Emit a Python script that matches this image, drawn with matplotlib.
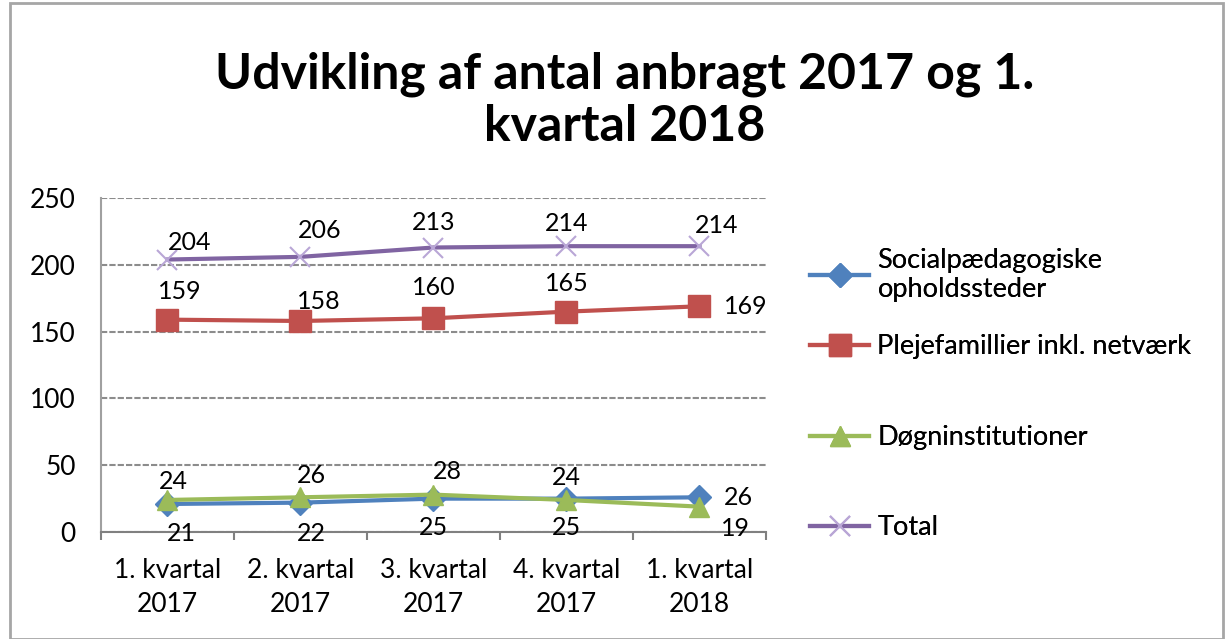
import matplotlib
matplotlib.use("Agg")
import matplotlib.pyplot as plt
from matplotlib.patches import Rectangle

plt.rcParams['font.family'] = ['Lato', 'DejaVu Sans']

categories = ["1. kvartal\n2017", "2. kvartal\n2017", "3. kvartal\n2017",
              "4. kvartal\n2017", "1. kvartal\n2018"]
social = [21, 22, 25, 25, 26]
pleje = [159, 158, 160, 165, 169]
doegn = [24, 26, 28, 24, 19]
total = [204, 206, 213, 214, 214]

seriesNames = ["Socialpædagogiske\nopholdssteder",
               "Plejefamillier inkl. netværk",
               "Døgninstitutioner", "Total"]

# label offsets in points (dx, dy) for each series point
socialOff = [(10, -21), (8, -22), (0, -21), (0, -21), (28, 0)]
plejeOff = [(9, 20), (13, 14), (0, 22), (0, 20), (33, 0)]
doegnOff = [(4, 13), (8, 16), (10, 17), (0, 16), (26, -16)]
totalOff = [(16, 12), (14, 19), (0, 18), (0, 16), (12, 15)]

# vertical positions (figure fraction) of the legend entries
legendY = [0.570, 0.457, 0.315, 0.174]

figure = plt.figure(figsize=(12.25, 6.39), dpi=100)
ax = figure.add_axes([0.0824, 0.1674, 0.5429, 0.5226])

x = list(range(len(categories)))
lineSpecs = [
    (social, "#4F81BD", "D", 12, socialOff),
    (pleje, "#C0504D", "s", 16, plejeOff),
    (doegn, "#9BBB59", "^", 14, doegnOff),
    (total, "#8064A2", "x", 14, totalOff),
]
handles = []
for (values, color, marker, msize, offsets), name in zip(lineSpecs, seriesNames):
    line, = ax.plot(x, values, color=color, lw=3, marker=marker, ms=msize,
                    mew=1.5 if marker == "x" else 1,
                    mec=color if marker != "x" else "#B9A6D6", label=name)
    handles.append(line)
    for xi, v, off in zip(x, values, offsets):
        ax.annotate(str(v), (xi, v), xytext=off, textcoords="offset points",
                    ha="center", va="center", fontsize=18, color="black")

ax.set_xlim(-0.5, 4.5)
ax.set_ylim(0, 250)
ax.set_yticks(range(0, 251, 50))
ax.set_xticks(x)
ax.set_xticklabels(categories, linespacing=1.45)
ax.set_xticks([i + 0.5 for i in range(-1, 5)], minor=True)
ax.tick_params(axis="x", which="major", length=0, pad=19, labelsize=19)
ax.tick_params(axis="x", which="minor", length=6, color="#808080", width=1.5)
ax.tick_params(axis="y", length=0, pad=18, labelsize=19)

ax.yaxis.grid(True, color="#8C8C8C", ls=(0, (3, 1)), lw=1.5)
ax.set_axisbelow(True)
for side in ["top", "right"]:
    ax.spines[side].set_visible(False)
ax.spines["left"].set_color("#A0A0A0")
ax.spines["left"].set_linestyle((0, (3, 1)))
ax.spines["left"].set_linewidth(1.5)
ax.spines["bottom"].set_color("#808080")
ax.spines["bottom"].set_linewidth(1.5)

figure.text(0.51, 0.843, "Udvikling af antal anbragt 2017 og 1.\nkvartal 2018",
            ha="center", va="center", fontsize=36, fontweight="bold",
            linespacing=1.2)

# one legend per entry, so the uneven spacing can be kept
for handle, name, yPos in zip(handles, seriesNames, legendY):
    leg = figure.legend([handle], [name], loc="center left",
                        bbox_to_anchor=(0.661, yPos), frameon=False,
                        fontsize=19.5, handlelength=2.2, handletextpad=0.3,
                        borderpad=0, borderaxespad=0)
    figure.add_artist(leg)

figure.patches.append(Rectangle((0.008, 0.0), 0.99, 0.995,
                                transform=figure.transFigure, fill=False,
                                edgecolor="#A6A6A6", lw=2))

figure.savefig("out.png", dpi=100)
plt.close(figure)
